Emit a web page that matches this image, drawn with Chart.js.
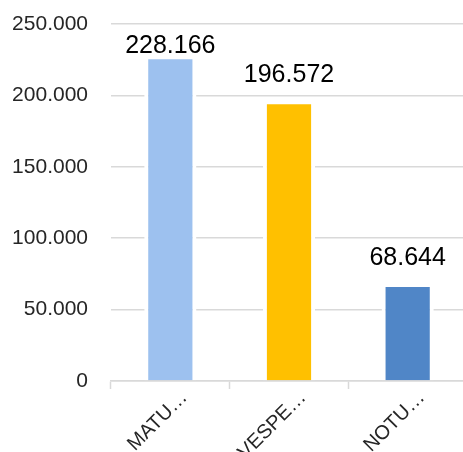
<!DOCTYPE html>
<html>
<head>
<meta charset="utf-8">
<script src="https://cdn.jsdelivr.net/npm/chart.js@4/dist/chart.umd.min.js"></script>
<style>
  html, body { margin: 0; padding: 0; background: #fff; overflow: hidden; }
  #wrap { width: 467px; height: 452px; }
</style>
</head>
<body>
<div id="wrap"><canvas id="turnosChart" width="467" height="452"></canvas></div>
<script>
const categories = ["MATU…", "VESPE…", "NOTU…"];
const values = [228166, 196572, 68644];
const barColors = ["#9dc1ef", "#ffc000", "#5086c7"];
const yTicks = { min: 0, max: 250000, step: 50000 };

const FONT = "'Liberation Sans', Arial, sans-serif";

function fmtNum(n) {
  return String(n).replace(/\B(?=(\d{3})+(?!\d))/g, ".");
}

// draws the value above each bar
const valueLabels = {
  id: "valueLabels",
  afterDatasetsDraw(chart) {
    const ctx = chart.ctx;
    const meta = chart.getDatasetMeta(0);
    ctx.save();
    ctx.font = "25px " + FONT;
    ctx.fillStyle = "#000";
    ctx.textAlign = "center";
    ctx.textBaseline = "alphabetic";
    meta.data.forEach((bar, i) => {
      const y = Math.max(bar.y - 18, chart.chartArea.top + 29);
      ctx.fillText(fmtNum(values[i]), bar.x, y);
    });
    ctx.restore();
  },
};

new Chart(document.getElementById("turnosChart").getContext("2d"), {
  type: "bar",
  data: {
    labels: categories,
    datasets: [
      {
        data: values,
        backgroundColor: barColors,
        borderColor: "#ffffff",
        borderWidth: 4,
        borderSkipped: "bottom",
        categoryPercentage: 1,
        barPercentage: 0.44,
      },
    ],
  },
  options: {
    responsive: false,
    animation: false,
    layout: { padding: { top: 24, left: 0, right: 0, bottom: 0 } },
    plugins: {
      legend: { display: false },
      tooltip: { enabled: false },
    },
    scales: {
      x: {
        afterFit: (s) => {
          s.height = 71;
          s.paddingLeft = 0;
          s.paddingRight = 0;
        },
        grid: {
          drawOnChartArea: false,
          drawTicks: true,
          tickLength: 8,
          tickWidth: 1.5,
          tickColor: "#d9d9d9",
        },
        border: { display: true, color: "#d9d9d9", width: 1.5 },
        ticks: {
          minRotation: 45,
          maxRotation: 45,
          labelOffset: 14,
          padding: -3,
          color: "#262626",
          font: { family: FONT, size: 20 },
        },
      },
      y: {
        min: yTicks.min,
        max: yTicks.max,
        afterFit: (s) => {
          s.width = 111;
          s.paddingTop = 0;
          s.paddingBottom = 0;
        },
        grid: { color: "#d9d9d9", lineWidth: 1.5, drawTicks: false },
        border: { display: false },
        ticks: {
          stepSize: yTicks.step,
          padding: 23,
          color: "#262626",
          font: { family: FONT, size: 21 },
          callback: (v) => fmtNum(v),
        },
      },
    },
  },
  plugins: [valueLabels],
});
</script>
</body>
</html>
